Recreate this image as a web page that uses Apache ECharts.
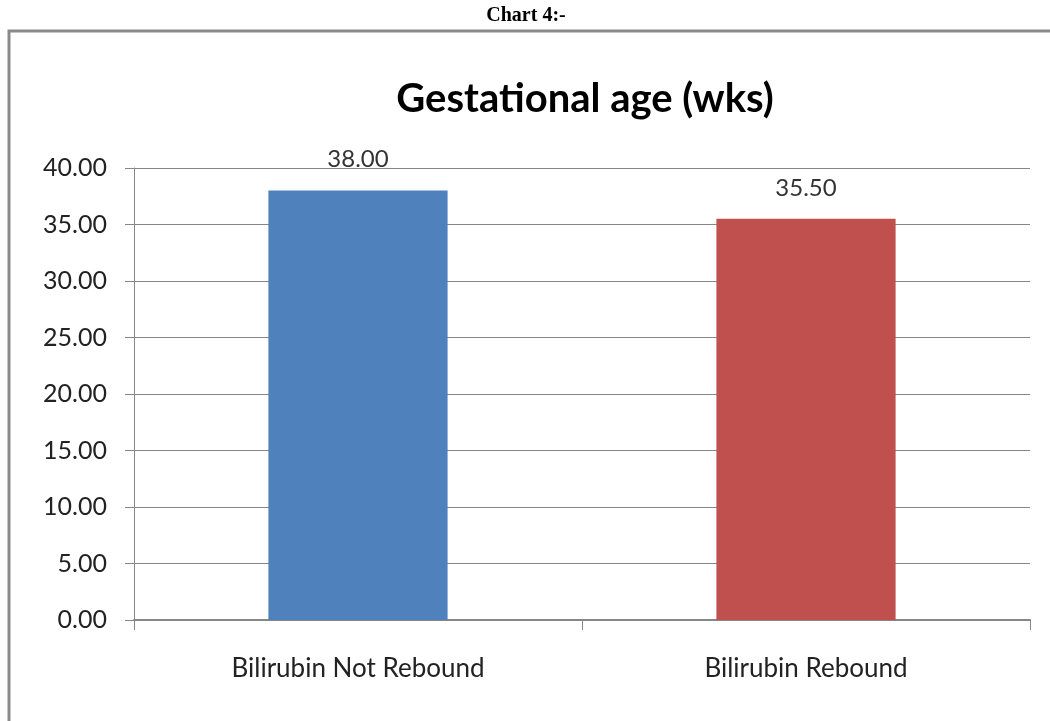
<!DOCTYPE html>
<html>
<head>
<meta charset="utf-8">
<script src="https://cdn.jsdelivr.net/npm/echarts@6/dist/echarts.min.js"></script>
<style>
html,body{margin:0;padding:0;background:#fff;}
#chart{width:1050px;height:721px;}
</style>
</head>
<body>
<div id="chart"></div>
<script>
const categories = ['Bilirubin Not Rebound', 'Bilirubin Rebound'];
const values = [38.00, 35.50];
const barColors = ['#4F81BD', '#C0504D'];
const yMin = 0, yMax = 40, yStep = 5;

const chart = echarts.init(document.getElementById('chart'), null, {renderer: 'canvas'});
chart.setOption({
  backgroundColor: '#ffffff',
  animation: false,
  graphic: [{
    type: 'rect',
    shape: {x: 9, y: 31, width: 1200, height: 900},
    style: {fill: 'none', stroke: '#8a8a8a', lineWidth: 3},
    z: 0
  }],
  title: [{
    text: 'Chart 4:-',
    left: 521, top: 1, textAlign: 'center',
    textStyle: {fontFamily: 'Liberation Serif', fontWeight: 'bold', fontSize: 20, color: '#000'}
  }, {
    text: 'Gestational age (wks)',
    left: 580, top: 74, textAlign: 'center',
    textStyle: {fontFamily: 'Lato', fontWeight: 'bold', fontSize: 40, color: '#000'}
  }],
  grid: {left: 134, right: 20, top: 168, bottom: 101, containLabel: false},
  xAxis: {
    type: 'category',
    data: categories,
    axisLine: {lineStyle: {color: '#868686', width: 2}},
    axisTick: {show: true, alignWithLabel: false, length: 10, lineStyle: {color: '#868686'}},
    axisLabel: {fontFamily: 'Lato', fontSize: 26, color: '#222', margin: 36}
  },
  yAxis: {
    type: 'value',
    min: yMin, max: yMax, interval: yStep,
    axisLine: {show: true, lineStyle: {color: '#868686'}},
    axisTick: {show: true, length: 9, lineStyle: {color: '#868686'}},
    splitLine: {lineStyle: {color: '#868686', width: 1}},
    axisLabel: {fontFamily: 'Lato', fontSize: 25, color: '#222', margin: 27,
      formatter: v => v.toFixed(2)}
  },
  series: [{
    type: 'bar',
    barWidth: '40%',
    data: values.map((v, i) => ({value: v, itemStyle: {color: barColors[i]}})),
    label: {
      show: true, position: 'top', distance: 19,
      fontFamily: 'Lato', fontSize: 24, color: '#333',
      formatter: p => p.value.toFixed(2)
    }
  }]
});
</script>
</body>
</html>
